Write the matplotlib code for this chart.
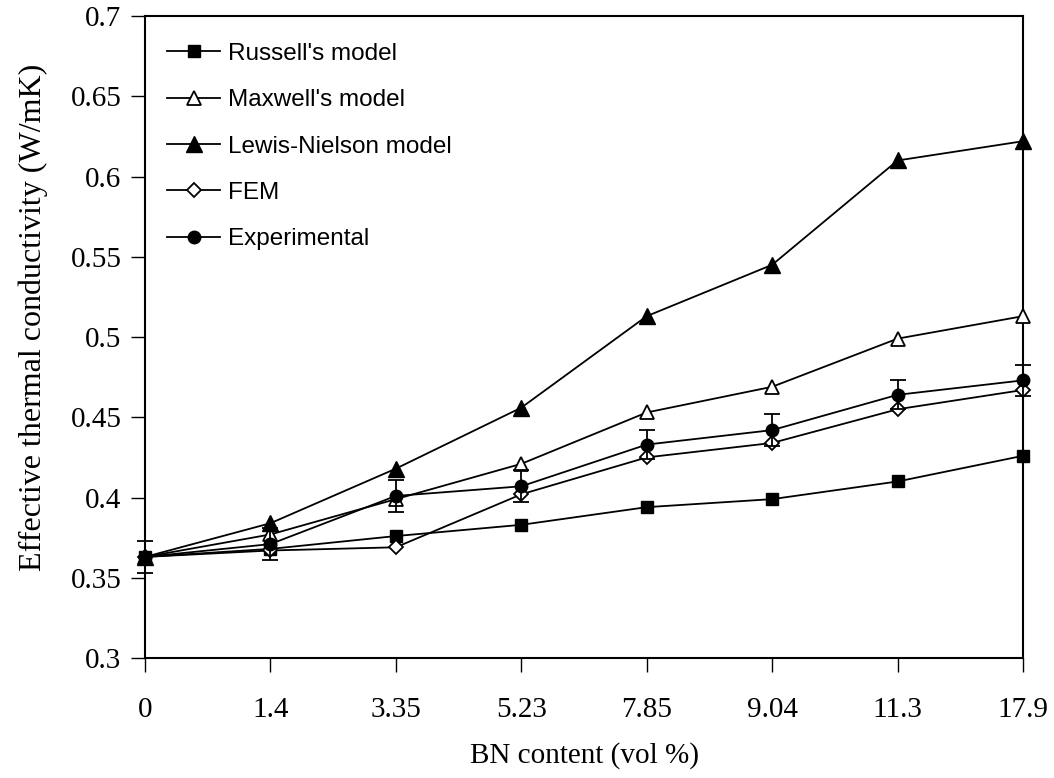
import numpy as np
import matplotlib
matplotlib.use('Agg')
import matplotlib.pyplot as plt

# --- Data ---
bn_labels = ['0', '1.4', '3.35', '5.23', '7.85', '9.04', '11.3', '17.9']
russell = [0.363, 0.368, 0.376, 0.383, 0.394, 0.399, 0.410, 0.426]
maxwell = [0.363, 0.377, 0.399, 0.421, 0.453, 0.469, 0.499, 0.513]
lewis_nielson = [0.363, 0.384, 0.418, 0.456, 0.513, 0.545, 0.610, 0.622]
fem = [0.363, 0.367, 0.369, 0.402, 0.425, 0.434, 0.455, 0.467]
experimental = [0.363, 0.371, 0.401, 0.407, 0.433, 0.442, 0.464, 0.473]
experimental_err = [0.010, 0.010, 0.010, 0.010, 0.009, 0.010, 0.009, 0.0095]

SERIF = 'Liberation Serif'
SANS = 'Liberation Sans'

fig = plt.figure(figsize=(10.54, 7.78), dpi=100)
ax = fig.add_axes([0.1376, 0.1542, 0.8330, 0.8252])

x = np.arange(len(bn_labels))
lw = 1.3

ax.plot(x, russell, '-s', color='black', lw=lw, ms=8, clip_on=False, zorder=3,
        label="Russell's model")
ax.plot(x, maxwell, '-^', color='black', lw=lw, ms=10, mfc='white', mew=1.3,
        clip_on=False, zorder=3, label="Maxwell's model")
ax.plot(x, lewis_nielson, '-^', color='black', lw=lw, ms=11, clip_on=False,
        zorder=3, label='Lewis-Nielson model')
ax.plot(x, fem, '-D', color='black', lw=lw, ms=7, mfc='white', mew=1.3,
        clip_on=False, zorder=3, label='FEM')
ax.plot(x, experimental, '-o', color='black', lw=lw, ms=9, clip_on=False,
        zorder=4, label='Experimental')
eb = ax.errorbar(x, experimental, yerr=experimental_err, fmt='none',
                 ecolor='black', elinewidth=1.3, capsize=5.5, capthick=1.3,
                 zorder=4)
for artist in eb.lines[1] + eb.lines[2]:
    artist.set_clip_on(False)

ax.set_xlim(0, len(bn_labels) - 1)
ax.set_ylim(0.3, 0.7)
ax.set_xticks(x)
ax.set_xticklabels(bn_labels)
ax.set_yticks(np.arange(0.3, 0.701, 0.05))
ax.set_yticklabels(['0.3', '0.35', '0.4', '0.45', '0.5', '0.55', '0.6', '0.65', '0.7'])

for spine in ax.spines.values():
    spine.set_linewidth(1.5)
ax.tick_params(axis='y', direction='out', length=10, width=1, pad=7,
               labelsize=21)
ax.tick_params(axis='x', direction='out', length=10, width=1, pad=18,
               labelsize=21)
for lbl in ax.get_xticklabels() + ax.get_yticklabels():
    lbl.set_fontfamily(SERIF)

ax.set_xlabel('BN content (vol %)', fontsize=21, family=SERIF, labelpad=14)
ax.set_ylabel('Effective thermal conductivity (W/mK)', fontsize=23,
              family=SERIF, labelpad=16)
ax.yaxis.label.set_y(0.531)

ax.legend(loc='upper left', bbox_to_anchor=(0.025, 0.958), frameon=False,
          borderaxespad=0, borderpad=0, handlelength=2.2, handletextpad=0.3,
          labelspacing=1.0, prop={'family': SANS, 'size': 17.5})

fig.savefig('out.png', dpi=100)
